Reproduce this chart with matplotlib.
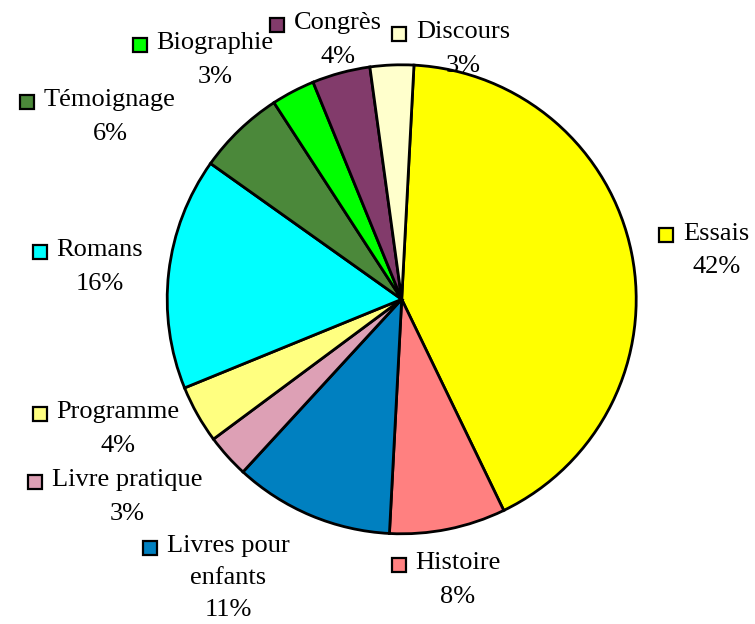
import matplotlib
matplotlib.use('Agg')
import matplotlib.pyplot as plt
from matplotlib.offsetbox import DrawingArea, AnnotationBbox
from matplotlib.patches import Rectangle

# donnees
categories = ['Essais', 'Histoire', 'Livres pour\nenfants', 'Livre pratique', 'Programme',
              'Romans', 'Témoignage', 'Biographie', 'Congrès', 'Discours']
valeurs = [42, 8, 11, 3, 4, 16, 6, 3, 4, 3]
couleurs = ['#FFFF00', '#FF8080', '#0080C0', '#DDA0B5', '#FFFF80',
            '#00FFFF', '#4B883A', '#00FF00', '#823B6B', '#FFFFCC']

# position des etiquettes (centre du bloc de texte, rayon du camembert = 1)
pos_etiquettes = [(1.341, 0.208), (0.240, -1.197), (-0.741, -1.188), (-1.171, -0.843),
                  (-1.210, -0.553), (-1.287, 0.138), (-1.244, 0.777), (-0.796, 1.020),
                  (-0.272, 1.106), (0.261, 1.067)]

plt.rcParams['font.family'] = ['Liberation Serif', 'DejaVu Serif']

W, H = 755, 624
cx, cy, R = 401.7, 299.3, 234.5  # centre et rayon en pixels

fig = plt.figure(figsize=(W / 100, H / 100), dpi=100)
ax = fig.add_axes([0, 0, 1, 1])

total = sum(valeurs)
ax.pie(valeurs, colors=couleurs, startangle=87, counterclock=False, radius=1,
       wedgeprops=dict(edgecolor='black', linewidth=2))

for nom, v, c, (x, y) in zip(categories, valeurs, couleurs, pos_etiquettes):
    pct = round(100 * v / total)
    n_lignes = nom.count('\n') + 2
    esp = 1.7 if n_lignes == 2 else 1.6
    txt = ax.text(x, y, f'{nom}\n{pct}%', ha='center', va='center', fontsize=19,
                  multialignment='center', linespacing=esp, zorder=5)
    # petit carre de legende a gauche de la premiere ligne
    da = DrawingArea(10, 10, 0, 0)
    da.add_artist(Rectangle((0, 0), 10, 10, facecolor=c, edgecolor='black', linewidth=1.6))
    ab = AnnotationBbox(da, (0, 1 - 0.5 / n_lignes), xycoords=txt, xybox=(-7, 1),
                        boxcoords='offset points', box_alignment=(1, 0.5),
                        frameon=False, pad=0)
    ab.set_zorder(6)
    ax.add_artist(ab)

ax.set_xlim(-cx / R, (W - cx) / R)
ax.set_ylim((cy - H) / R, cy / R)
ax.set_aspect('equal', adjustable='datalim')
ax.axis('off')

fig.savefig('out.png', dpi=100)
